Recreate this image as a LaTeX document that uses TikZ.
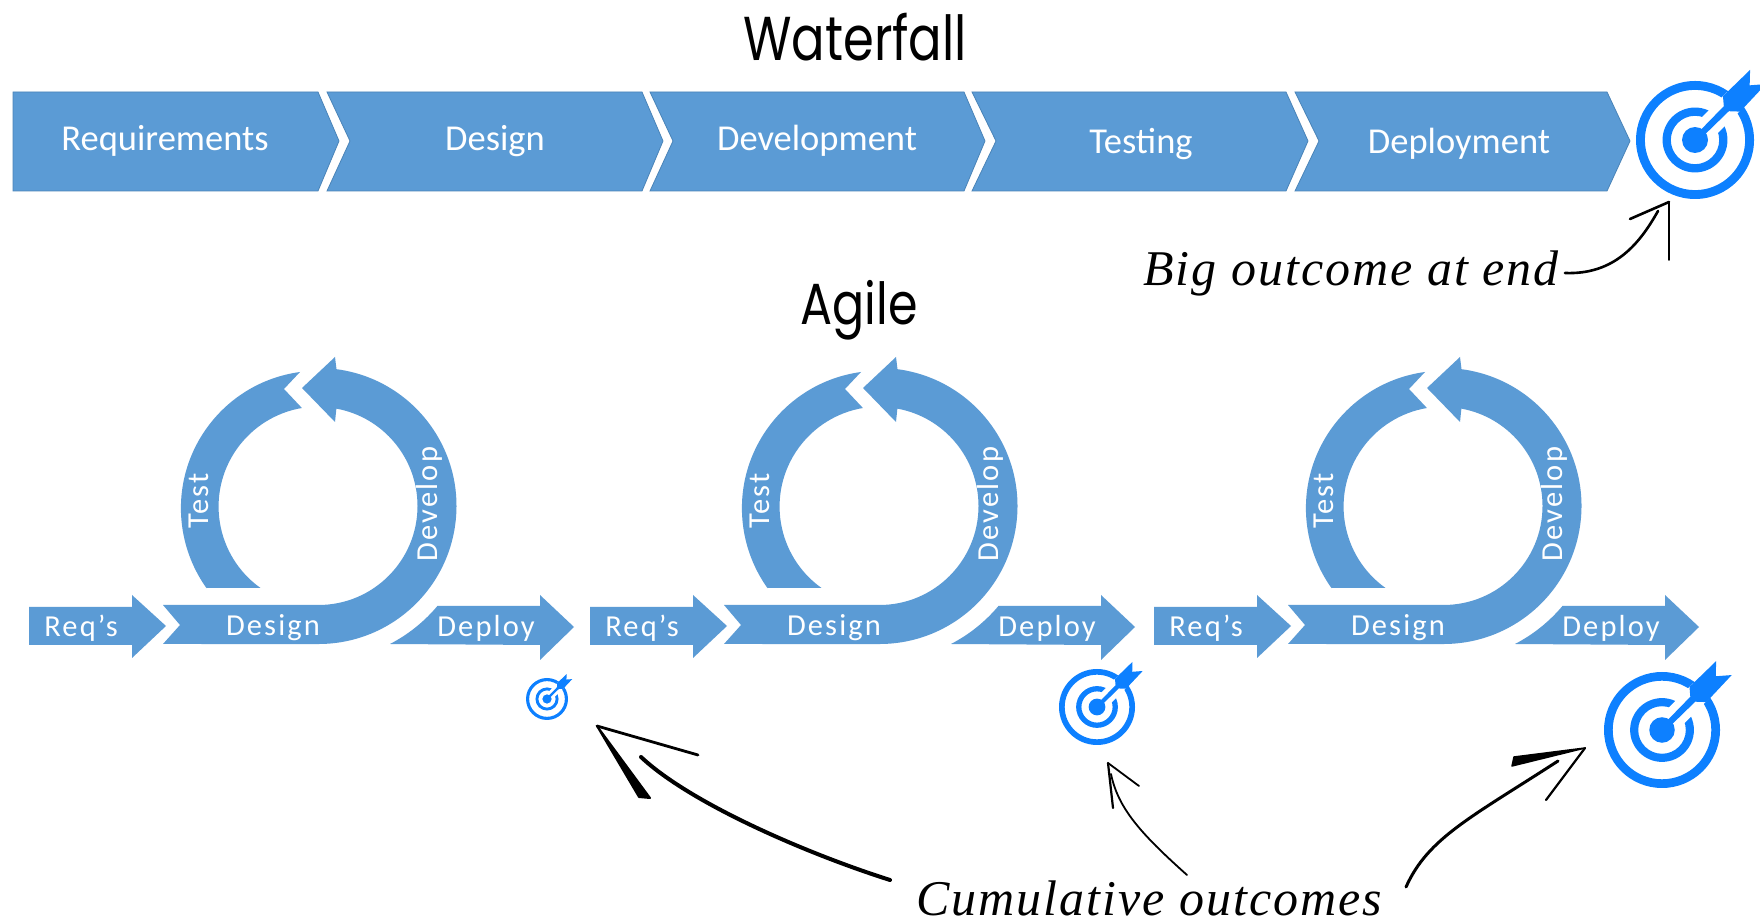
\documentclass[tikz,border=0pt]{standalone}
\usepackage{graphicx}
\usepackage{fontspec}
\setmainfont{Carlito}
\newfontfamily\titlefont{Poppins}
\newfontfamily\handfont{Liberation Serif}
\definecolor{flow}{HTML}{5B9BD5}
\definecolor{flowedge}{HTML}{4A84B8}
\definecolor{tmark}{HTML}{0D80FF}
\newcommand{\targetmark}[4]{%
  \begin{scope}[shift={(#2,#3)},scale=#4]
    \coordinate (#1) at (0,0);
    \fill[tmark,even odd rule] (0,0) circle (1) (0,0) circle (.85) (0,0) circle (.55) (0,0) circle (.41);
    \begin{scope}[rotate=45]
      \fill[white] (.2,-.19) rectangle (.95,.19);
      \fill[tmark] (0,-.05) -- (.75,-.06) -- (.88,-.2) -- (1.52,-.18) -- (1.31,0) -- (1.5,.18) -- (.86,.19) -- (.75,.06) -- (0,.05) -- cycle;
    \end{scope}
    \fill[tmark] (0,0) circle (.22);
  \end{scope}}
\tikzset{
  x=1pt,y=1pt,
  chev/.style={fill=flow,draw=flowedge,line width=.8pt,line join=miter},
  flat/.style={fill=flow,draw=none},
  chevlabel/.style={text=white,font=\fontsize{36.5}{40}\selectfont},
  looplabel/.style={text=white,font=\fontsize{30.5}{34}\selectfont\addfontfeature{LetterSpace=7},inner sep=0pt},
  titlelabel/.style={text=black,inner sep=0pt},
  handlabel/.style={text=black,inner sep=0pt,font=\handfont\itshape\fontsize{50}{54}\selectfont\addfontfeature{LetterSpace=4}},
  sketch/.style={draw=black,line cap=round,line join=round,fill=none},
}
\begin{document}
\begin{tikzpicture}
\useasboundingbox[fill=white] (0,0) rectangle (1760,923);
% Waterfall bar
\path[chev] (13,831) -- (318,831) -- (339,782) -- (318,732) -- (13,732) -- cycle;
\path[chev] (327,831) -- (642,831) -- (663,782) -- (642,732) -- (327,732) -- (350,782) -- cycle;
\path[chev] (650,831) -- (964,831) -- (985,782) -- (964,732) -- (650,732) -- (673,782) -- cycle;
\path[chev] (972,831) -- (1286,831) -- (1308,782) -- (1286,732) -- (972,732) -- (996,782) -- cycle;
\path[chev] (1295,831) -- (1607,831) -- (1630,782) -- (1607,732) -- (1295,732) -- (1319,782) -- cycle;
\node[chevlabel] (wreq) at (165,782) {Requirements};
\node[chevlabel] (wdes) at (495,782) {Design};
\node[chevlabel] (wdev) at (817,782) {Development};
\node[chevlabel] (wtes) at (1141,779) {Testing};
\node[chevlabel] (wdep) at (1459,779) {Deployment};
\node[titlelabel] (wtitle) at (855,886) {\scalebox{.8}[1]{\titlefont\fontsize{62}{66}\selectfont Waterfall}};
\node[titlelabel] (atitle) at (859,613) {\scalebox{.82}[1]{\titlefont\fontsize{58}{62}\selectfont Agile}};
% Agile loops
\foreach \i/\off in {1/0,2/561,3/1125}{
  \begin{scope}[shift={(318.5+\off,417)}]
    \path[flat] (-289.5,-101) -- (-186.5,-101) -- (-186.5,-89) -- (-152.5,-120) -- (-186.5,-152) -- (-186.5,-139) -- (-289.5,-139) -- cycle;
    \path[flat] (-155.5,-99) -- (0,-99) arc (-90:79.6:99pt) -- (16.5,84) -- (-16.5,118) -- (16.5,149) -- (18,136.8) arc (82.5:-90:138pt) -- (-155.5,-138) -- (-138.5,-119) -- cycle;
    \path[flat] (-112,-82) -- (-58,-82) arc (234.5:99.6:100pt) -- (-34.5,117) -- (-18.5,134) arc (97.7:215.5:137.5pt) -- cycle;
    \path[flat] (71.5,-138) arc (-62.6:-39.9:155pt) -- (221.5,-100) -- (221.5,-89) -- (255.5,-121) -- (221.5,-154) -- (221.5,-139) -- cycle;
    \node[looplabel] (req\i) at (-237.5,-122) {Req's};
    \node[looplabel] (des\i) at (-45.5,-122) {Design};
    \node[looplabel] (dep\i) at (167.5,-122) {Deploy};
    \node[looplabel,rotate=90] (tes\i) at (-119.5,5) {Test};
    \node[looplabel,rotate=90] (dev\i) at (110.5,2) {Develop};
  \end{scope}
}
% Targets
\targetmark{tbig}{1695}{783}{59}
\targetmark{ta}{547}{224}{21}
\targetmark{tb}{1097}{216}{38}
\targetmark{tc}{1662}{193}{58}
% Annotation texts
\node[handlabel] (bigout) at (1351,650) {Big outcome at end};
\node[handlabel] (cumul) at (1149,25) {Cumulative outcomes};
% Named sketch points
\coordinate (t1) at (1669,721);
\coordinate (t1a) at (1630,704);
\coordinate (t1b) at (1669,663);
\coordinate (lstart) at (890,43);
\coordinate (lend) at (641,166);
\coordinate (ltip) at (597,197);
\coordinate (la) at (698,168);
\coordinate (mstart) at (1187,48);
\coordinate (mend) at (1111,149);
\coordinate (mtip) at (1108,160);
\coordinate (ma) at (1139,137);
\coordinate (mb) at (1113,115);
\coordinate (rstart) at (1406,36);
\coordinate (rend) at (1558,162);
\coordinate (rtip) at (1585,175);
\coordinate (rb) at (1546,123);
% Sketch arrows
\draw[sketch,line width=2.6pt] ([xshift=6pt]bigout.east) .. controls (1615,648) and (1640,680) .. (1658,712);
\draw[sketch,line width=2.6pt] (t1) -- (t1a);
\draw[sketch,line width=2pt] (t1) -- (t1b);
\draw[sketch,line width=4pt] (lstart) .. controls (805,70) and (690,120) .. (lend);
\draw[sketch,line width=2.8pt] (ltip) -- (la);
\fill[black,draw=black,line width=2pt,line join=round] (ltip) -- (650,125) -- (639,126) -- cycle;
\draw[sketch,line width=1.8pt] (mstart) .. controls (1140,90) and (1118,115) .. (mend);
\draw[sketch,line width=1.8pt] (mtip) -- (ma);
\draw[sketch,line width=2.2pt] (mtip) -- (mb);
\draw[sketch,line width=3pt] (rstart) .. controls (1428,85) and (1470,105) .. (rend);
\fill[black,draw=black,line width=1.5pt,line join=round] (rtip) -- (1514,166) -- (1512,157) -- cycle;
\draw[sketch,line width=2.2pt] (rtip) -- (rb);
\end{tikzpicture}
\end{document}
